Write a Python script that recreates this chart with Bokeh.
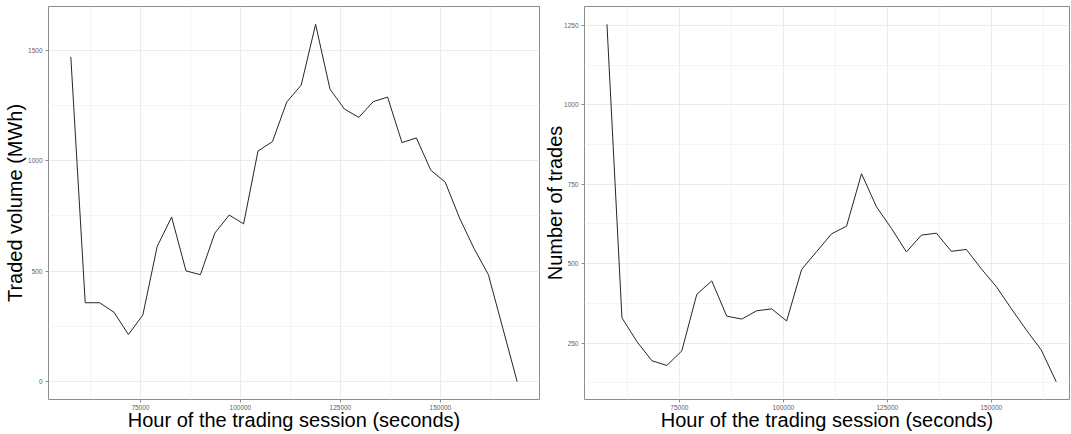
from bokeh.plotting import figure
from bokeh.layouts import row
from bokeh.models import FixedTicker, Range1d, NumeralTickFormatter
from bokeh.embed import file_html
from bokeh.resources import INLINE

# ---- data ----
seconds_volume = [57600, 61200, 64800, 68400, 72000, 75600, 79200, 82800, 86400, 90000,
                  93600, 97200, 100800, 104400, 108000, 111600, 115200, 118800, 122400, 126000,
                  129600, 133200, 136800, 140400, 144000, 147600, 151200, 154800, 158400, 162000,
                  165600, 169200]
volume = [1470, 357, 357, 314, 213, 301, 612, 745, 501, 484,
          672, 754, 714, 1044, 1086, 1266, 1342, 1617, 1324, 1234,
          1196, 1267, 1288, 1082, 1103, 957, 903, 740, 603, 484,
          242, 0]

seconds_trades = [57600, 61200, 64800, 68400, 72000, 75600, 79200, 82800, 86400, 90000,
                  93600, 97200, 100800, 104400, 108000, 111600, 115200, 118800, 122400, 126000,
                  129600, 133200, 136800, 140400, 144000, 147600, 151200, 154800, 158400, 162000,
                  165600]
trades = [1253, 330, 255, 195, 180, 226, 404, 446, 335, 326,
          352, 358, 320, 482, 538, 594, 618, 783, 679, 611,
          537, 590, 596, 539, 545, 484, 428, 359, 292, 229,
          129]

x_ticks = [75000, 100000, 125000, 150000]
x_minor = [62500, 87500, 112500, 137500, 162500]
vol_ticks = [0, 500, 1000, 1500]
vol_minor = [250, 750, 1250]
tr_ticks = [250, 500, 750, 1000, 1250]
tr_minor = [125, 375, 625, 875, 1125]

x_title = "Hour of the trading session (seconds)"
vol_title = "Traded volume (MWh)"
tr_title = "Number of trades"

FONT = "Liberation Sans"
BORDER = "#8c8c8c"
GRID = "#ebebeb"
MINOR = "#f4f4f4"


def style(p, xt, xm, yt, ym, ylabel, ystand):
    p.outline_line_color = BORDER
    p.outline_line_width = 1
    p.background_fill_color = "white"
    p.border_fill_color = "white"
    p.xaxis.ticker = FixedTicker(ticks=xt, minor_ticks=xm)
    p.yaxis.ticker = FixedTicker(ticks=yt, minor_ticks=ym)
    p.xaxis.formatter = NumeralTickFormatter(format="0")
    p.yaxis.formatter = NumeralTickFormatter(format="0")
    for ax in (p.xaxis[0], p.yaxis[0]):
        ax.axis_line_color = None
        ax.major_tick_line_color = BORDER
        ax.major_tick_out = 3
        ax.major_tick_in = 0
        ax.minor_tick_line_color = None
        ax.major_label_text_font = FONT
        ax.major_label_text_font_size = "6.5px"
        ax.major_label_text_color = "#606060"
        ax.major_label_standoff = 2
        ax.axis_label_text_font = FONT
        ax.axis_label_text_font_size = "20px"
        ax.axis_label_text_font_style = "normal"
        ax.axis_label_text_color = "black"
    p.xaxis.axis_label = x_title
    p.yaxis.axis_label = ylabel
    p.xaxis.major_label_standoff = 1
    p.xaxis.axis_label_standoff = -4
    p.yaxis.axis_label_standoff = ystand
    for g in (p.xgrid[0], p.ygrid[0]):
        g.grid_line_color = GRID
        g.grid_line_width = 1
        g.minor_grid_line_color = MINOR
        g.minor_grid_line_width = 1


p1 = figure(width=540, height=433, output_backend="svg", toolbar_location=None,
            x_range=Range1d(52020, 174780), y_range=Range1d(-81, 1698),
            min_border_left=48, min_border_right=1, min_border_top=6, min_border_bottom=33)
p1.line(seconds_volume, volume, line_color="#262626", line_width=1)
style(p1, x_ticks, x_minor, vol_ticks, vol_minor, vol_title, -1)

p2 = figure(width=530, height=433, output_backend="svg", toolbar_location=None,
            x_range=Range1d(52200, 168800), y_range=Range1d(73, 1309),
            min_border_left=44, min_border_right=1, min_border_top=6, min_border_bottom=33)
p2.line(seconds_trades, trades, line_color="#262626", line_width=1)
style(p2, x_ticks, x_minor, tr_ticks, tr_minor, tr_title, -5)

layout = row(p1, p2)
open("out.html", "w").write(file_html(layout, INLINE))
